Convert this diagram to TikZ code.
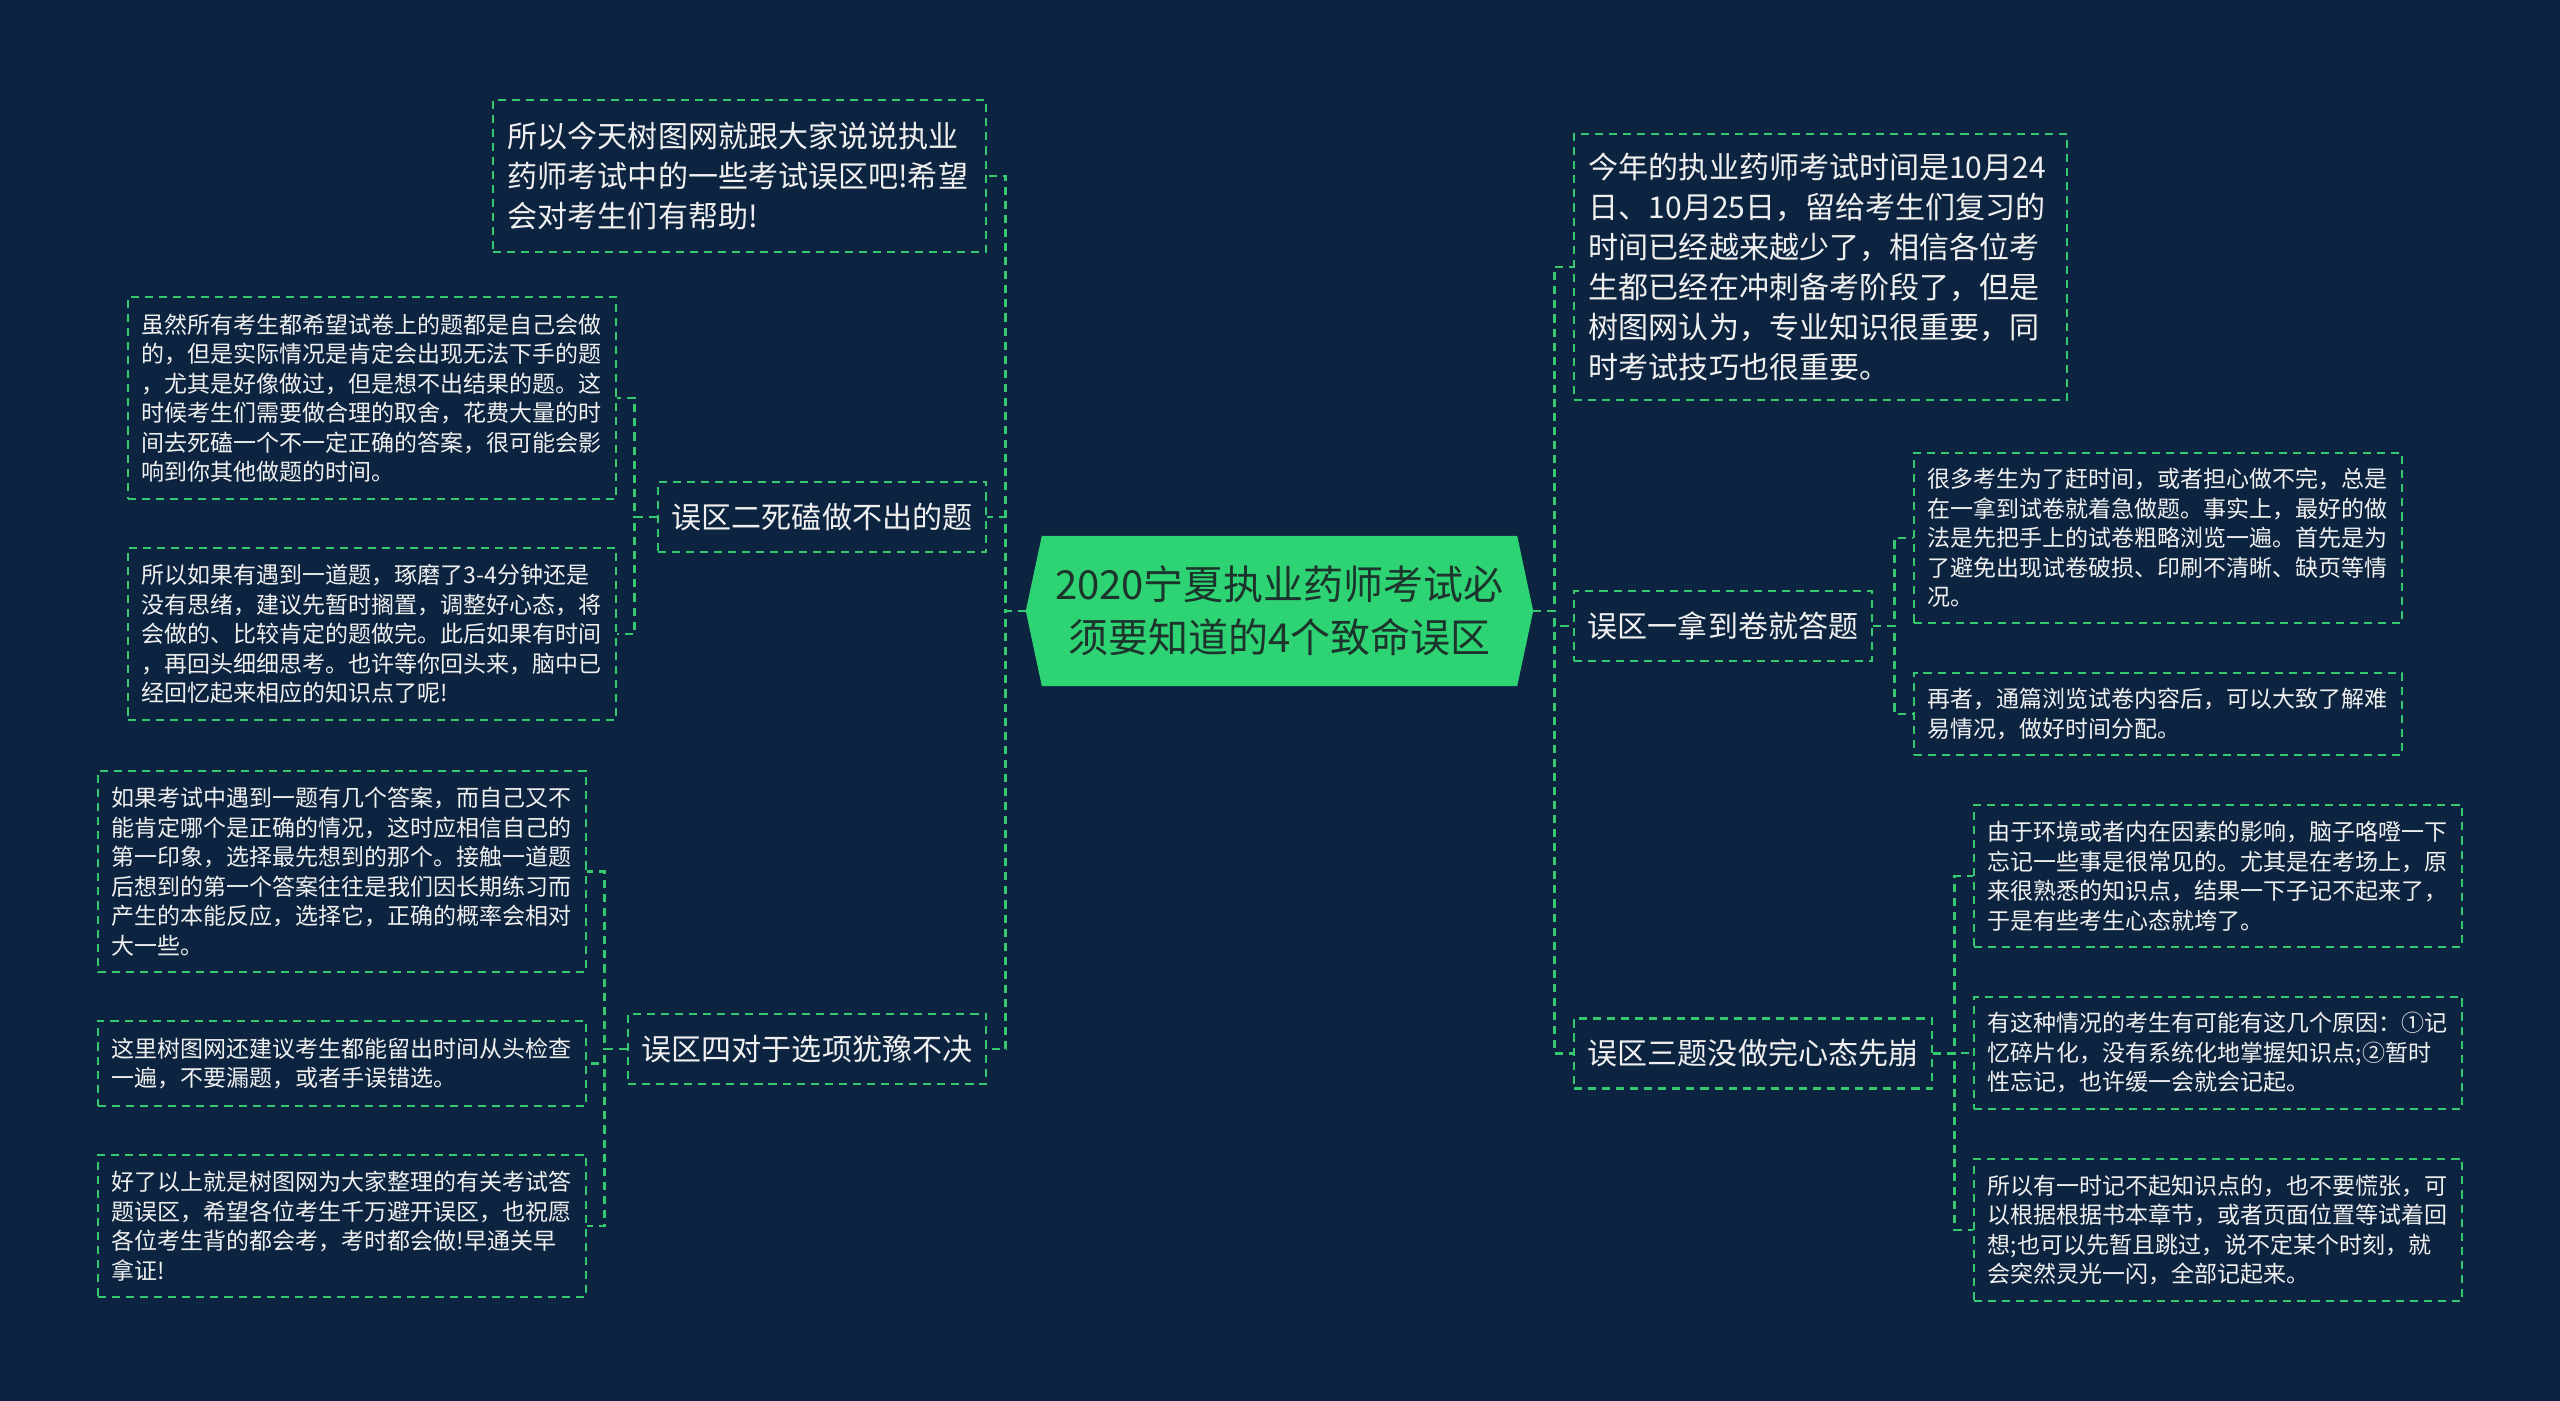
\documentclass[tikz,border=0pt]{standalone}
\usepackage{fontspec}
\setmainfont{Noto Sans CJK SC}
\usetikzlibrary{positioning,backgrounds}
\definecolor{bgnavy}{RGB}{13,36,64}
\definecolor{linegreen}{RGB}{52,201,112}
\definecolor{ctrgreen}{RGB}{46,211,115}
\definecolor{ctrtext}{RGB}{28,52,44}
\definecolor{leaftext}{RGB}{240,240,240}
\tikzset{every picture/.style={line width=0.6pt}}
\newcommand\leaffont{\fontsize{6.54pt}{8.39pt}\selectfont}
\newcommand\bigleaffont{\fontsize{8.54pt}{11.38pt}\selectfont}
\newcommand\topicfont{\fontsize{8.54pt}{10pt}\selectfont}
\newcommand\ctrfont{\fontsize{11.38pt}{15.08pt}\selectfont}
\tikzset{
  dashbox/.style={draw=linegreen, dash pattern=on 2.3pt off 1.7pt, text=leaftext},
  leaf/.style={dashbox, font=\leaffont, align=left, text width=4.6cm, inner xsep=0.14cm},
  bigleaf/.style={dashbox, font=\bigleaffont, align=left, text width=4.63cm, inner xsep=0.15cm},
  topic/.style={dashbox, font=\topicfont, inner xsep=0.14cm, minimum height=0.7cm},
  link/.style={draw=linegreen, line width=0.8pt, dash pattern=on 2.3pt off 1.7pt},
}

\begin{document}
\begin{tikzpicture}[x=0.01cm, y=-0.01cm]
    \useasboundingbox (0,0) rectangle (2560,1401);

    % Centre
    \node[font=\ctrfont, text=ctrtext, align=center, minimum width=5.05cm, minimum height=1.48cm] (ctr) at (1279.5,611)
        {2020宁夏执业药师考试必\\须要知道的4个致命误区};
    \begin{scope}[on background layer]
        \fill[bgnavy] (0,0) rectangle (2560,1401);
        \fill[ctrgreen] (ctr.west) -- ([xshift=0.16cm]ctr.north west) -- ([xshift=-0.16cm]ctr.north east)
            -- (ctr.east) -- ([xshift=-0.16cm]ctr.south east) -- ([xshift=0.16cm]ctr.south west) -- cycle;
    \end{scope}

    % Left side
    \node[bigleaf, minimum height=1.52cm] (t0) at (739.5,176)
        {所以今天树图网就跟大家说说执业\\药师考试中的一些考试误区吧!希望\\会对考生们有帮助!};
    \node[topic] (m2) at (822,517) {误区二死磕做不出的题};
    \node[leaf, minimum height=2.02cm] (a1) at (372,398)
        {虽然所有考生都希望试卷上的题都是自己会做\\的，但是实际情况是肯定会出现无法下手的题\\，尤其是好像做过，但是想不出结果的题。这\\时候考生们需要做合理的取舍，花费大量的时\\间去死磕一个不一定正确的答案，很可能会影\\响到你其他做题的时间。};
    \node[leaf, minimum height=1.72cm] (a2) at (372,634)
        {所以如果有遇到一道题，琢磨了3-4分钟还是\\没有思绪，建议先暂时搁置，调整好心态，将\\会做的、比较肯定的题做完。此后如果有时间\\，再回头细细思考。也许等你回头来，脑中已\\经回忆起来相应的知识点了呢!};
    \node[topic] (m4) at (807,1049) {误区四对于选项犹豫不决};
    \node[leaf, minimum height=2.01cm] (d1) at (342,871.5)
        {如果考试中遇到一题有几个答案，而自己又不\\能肯定哪个是正确的情况，这时应相信自己的\\第一印象，选择最先想到的那个。接触一道题\\后想到的第一个答案往往是我们因长期练习而\\产生的本能反应，选择它，正确的概率会相对\\大一些。};
    \node[leaf, minimum height=0.85cm] (d2) at (342,1063.5)
        {这里树图网还建议考生都能留出时间从头检查\\一遍，不要漏题，或者手误错选。};
    \node[leaf, minimum height=1.42cm] (d3) at (342,1226)
        {好了以上就是树图网为大家整理的有关考试答\\题误区，希望各位考生千万避开误区，也祝愿\\各位考生背的都会考，考时都会做!早通关早\\拿证!};

    % Right side
    \node[bigleaf, minimum height=2.66cm] (r0) at (1820.5,267)
        {今年的执业药师考试时间是10月24\\日、10月25日，留给考生们复习的\\时间已经越来越少了，相信各位考\\生都已经在冲刺备考阶段了，但是\\树图网认为，专业知识很重要，同\\时考试技巧也很重要。};
    \node[topic] (m1) at (1723,626) {误区一拿到卷就答题};
    \node[leaf, minimum height=1.70cm] (b1) at (2158,538)
        {很多考生为了赶时间，或者担心做不完，总是\\在一拿到试卷就着急做题。事实上，最好的做\\法是先把手上的试卷粗略浏览一遍。首先是为\\了避免出现试卷破损、印刷不清晰、缺页等情\\况。};
    \node[leaf, minimum height=0.82cm] (b2) at (2158,714)
        {再者，通篇浏览试卷内容后，可以大致了解难\\易情况，做好时间分配。};
    \node[topic] (m3) at (1753,1053.5) {误区三题没做完心态先崩};
    \node[leaf, minimum height=1.42cm] (c1) at (2218,876)
        {由于环境或者内在因素的影响，脑子咯噔一下\\忘记一些事是很常见的。尤其是在考场上，原\\来很熟悉的知识点，结果一下子记不起来了，\\于是有些考生心态就垮了。};
    \node[leaf, minimum height=1.12cm] (c2) at (2218,1053)
        {有这种情况的考生有可能有这几个原因：①记\\忆碎片化，没有系统化地掌握知识点;②暂时\\性忘记，也许缓一会就会记起。};
    \node[leaf, minimum height=1.42cm] (c3) at (2218,1230)
        {所以有一时记不起知识点的，也不要慌张，可\\以根据根据书本章节，或者页面位置等试着回\\想;也可以先暂且跳过，说不定某个时刻，就\\会突然灵光一闪，全部记起来。};

    % Links
    \foreach \n in {t0,m2,m4}
        \draw[link] (ctr.west) -- ++(-20,0) |- (\n.east);
    \foreach \n in {a1,a2}
        \draw[link] (m2.west) -- ++(-22,0) |- (\n.east);
    \foreach \n in {d1,d2,d3}
        \draw[link] (m4.west) -- ++(-22,0) |- (\n.east);
    \foreach \n in {r0,m1,m3}
        \draw[link] (ctr.east) -- ++(21,0) |- (\n.west);
    \foreach \n in {b1,b2}
        \draw[link] (m1.east) -- ++(21,0) |- (\n.west);
    \foreach \n in {c1,c2,c3}
        \draw[link] (m3.east) -- ++(21,0) |- (\n.west);
\end{tikzpicture}
\end{document}
